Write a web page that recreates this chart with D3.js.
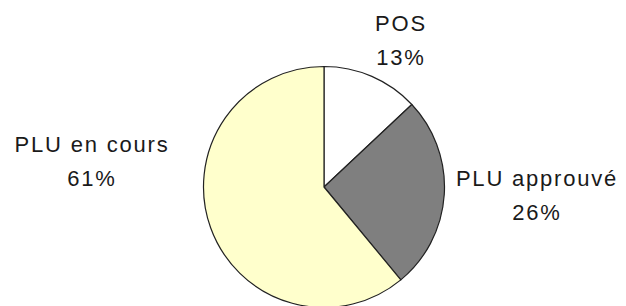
<!DOCTYPE html>
<html>
<head>
<meta charset="utf-8">
<script src="https://cdn.jsdelivr.net/npm/d3@7/dist/d3.min.js"></script>
<style>
  html, body { margin: 0; padding: 0; background: #ffffff; }
  svg { display: block; }
  text { font-family: "Liberation Sans", Arial, sans-serif; fill: #1a1a1a; }
</style>
</head>
<body>
<svg id="chart" width="626" height="306"></svg>
<script>
// Data
const categories = ["POS", "PLU approuvé", "PLU en cours"];
const values = [13, 26, 61];
const percentLabels = ["13%", "26%", "61%"];
const colors = ["#ffffff", "#7f7f7f", "#ffffcc"];

// Layout
const W = 626, H = 306;
const cx = 324, cy = 187, R = 120.5;
// label anchor points (center of label block, first-line baseline)
const labelAnchors = [
  { x: 401, y: 31 },
  { x: 537, y: 186 },
  { x: 92, y: 152 }
];
const lineGap = 34;

const svg = d3.select("#chart");
const data = categories.map((c, i) => ({ name: c, value: values[i], pct: percentLabels[i], color: colors[i] }));

const pie = d3.pie().sort(null).value(d => d.value).startAngle(0).endAngle(2 * Math.PI);
const arc = d3.arc().innerRadius(0).outerRadius(R);

const g = svg.append("g").attr("transform", `translate(${cx},${cy})`);
g.selectAll("path")
  .data(pie(data))
  .join("path")
  .attr("d", arc)
  .attr("fill", d => d.data.color)
  .attr("stroke", "#222")
  .attr("stroke-width", 1.2)
  .attr("stroke-linejoin", "round");

const labels = svg.append("g");
data.forEach((d, i) => {
  const t = labels.append("text")
    .attr("text-anchor", "middle")
    .attr("font-size", 22)
    .attr("letter-spacing", 1.8);
  t.append("tspan").attr("x", labelAnchors[i].x).attr("y", labelAnchors[i].y).text(d.name);
  t.append("tspan").attr("x", labelAnchors[i].x).attr("y", labelAnchors[i].y + lineGap).text(d.pct);
});
</script>
</body>
</html>
